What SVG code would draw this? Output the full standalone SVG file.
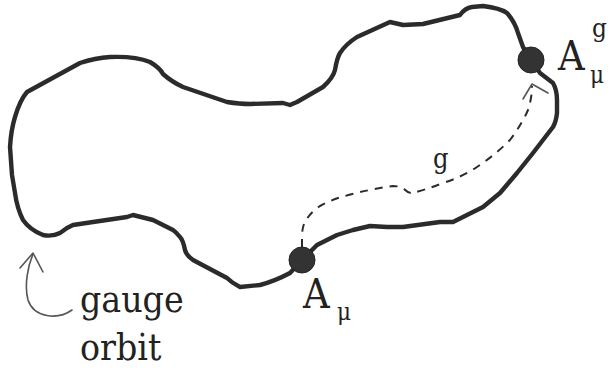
<svg xmlns="http://www.w3.org/2000/svg" width="608" height="372" viewBox="0 0 608 372">
<style>
.orbit{fill:none;stroke:#2b2b2b;stroke-width:4.4;stroke-linejoin:round;stroke-linecap:round}
.dot{fill:#333;stroke:#222;stroke-width:1}
text{font-family:'DejaVu Serif Condensed','DejaVu Serif',serif;font-stretch:condensed;fill:#222}
.dash{fill:none;stroke:#2b2b2b;stroke-width:2;stroke-dasharray:8 7}
.thin{fill:none;stroke:#555;stroke-width:1.6;stroke-linecap:round;stroke-linejoin:round}
</style>
<rect width="608" height="372" fill="#fff"/>
<g id="orbit">
<path class="orbit" d="M27,92 L80,63 Q95,58 110,57 Q135,56 150,62 Q160,68 163,74 Q172,82 183,87 L227,102 Q240,104 250,104 L283,103 L290,105 L297,102 L323,87 Q333,78 335,70 Q337,58 340,53 Q346,44 357,37 L390,22 L403,25 L423,24 L460,15 Q465,8 472,7 L483,6 Q500,8 507,13 Q515,22 518,33 L523,47 L531,60 L540,73 L553,83 Q557,90 557,100 L557,113 Q556,122 553,127 L543,140 L533,153 L517,173 L500,193 L483,207 L467,215 L453,222 L440,222 L403,227 L387,227 L370,226 L353,230 L337,235 L317,245 L302,260 L290,273 Q275,281 260,285 L240,287 Q232,283 227,278 L193,260 Q186,255 185,250 Q183,240 180,237 Q176,232 173,230 L153,220 L133,215 L127,217 L93,222 L73,225 L67,228 L60,233 Q52,237 43,235 Q30,230 23,220 Q17,208 15,193 L12,175 L10,147 Q11,130 15,117 Q20,100 27,92 Z"/>
</g>
<g id="connectors">
<path class="dash" d="M302,247 L302,237 Q302,226 306,220 Q312,211 320,206 Q333,199 345,196 Q370,189 393,186 Q400,186 404,189 Q408,193 412,193 Q425,190 443,183 Q462,177 477,167 Q495,155 510,140 Q522,124 528,110 Q532,98 532,86"/>
<path class="thin" d="M523,99 L532,84 L548,93"/>
<path class="thin" d="M72,310 C58,320 34,318 28,300 C24,285 28,266 33,254"/>
<path class="thin" d="M20,268 L33,253 L43,272"/>
</g>
<g id="node-A">
<circle class="dot" cx="302" cy="260" r="13"/>
<text x="303" y="308" font-size="41">A</text>
<text x="337" y="320" font-size="24">μ</text>
</g>
<g id="node-Ag">
<circle class="dot" cx="531" cy="60" r="13"/>
<text x="558" y="70" font-size="41">A</text>
<text x="590" y="83" font-size="24">μ</text>
<text x="592" y="37" font-size="26">g</text>
</g>
<g id="label-g">
<text x="433" y="168" font-size="27">g</text>
</g>
<g id="label-orbit">
<text x="80" y="312" font-size="37">gauge</text>
<text x="80" y="360" font-size="37">orbit</text>
</g>
</svg>
